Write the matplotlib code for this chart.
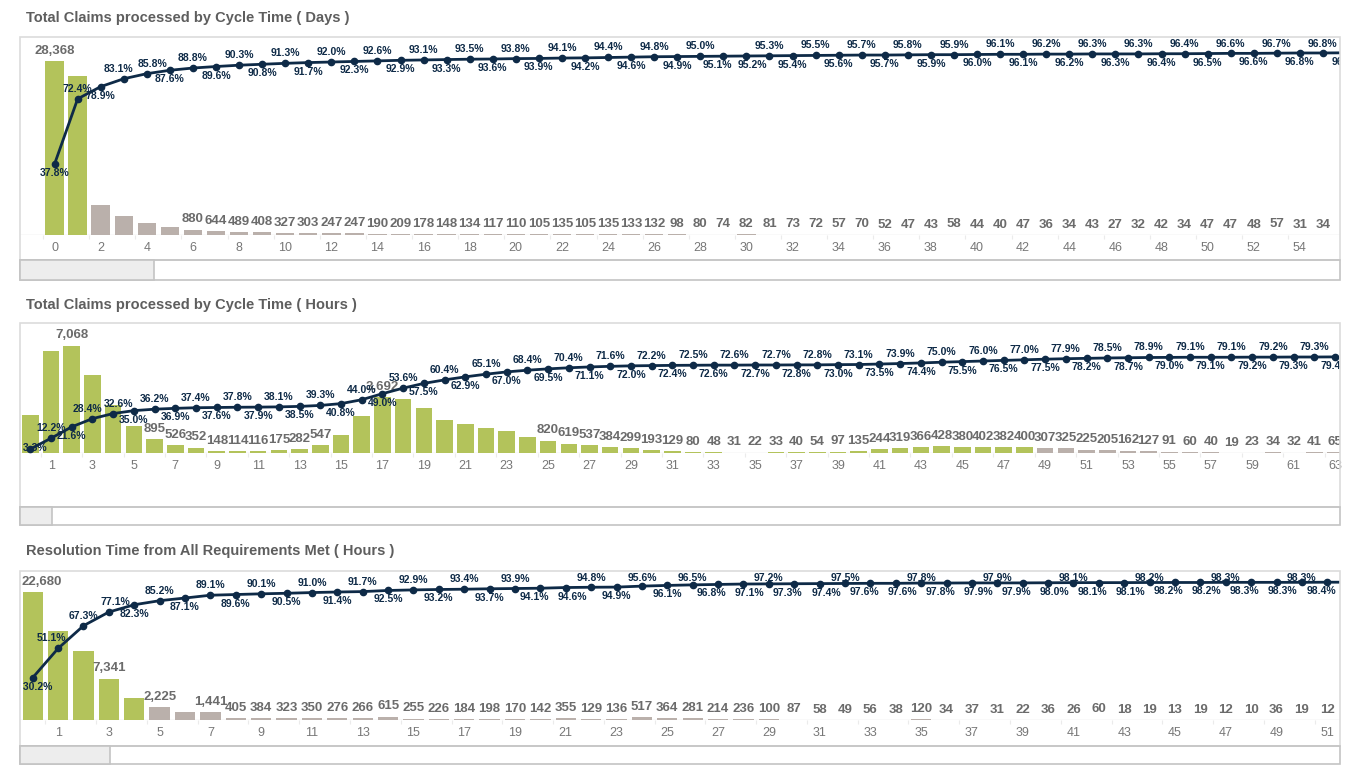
import matplotlib
matplotlib.use('Agg')
import matplotlib.pyplot as plt
from matplotlib.patches import Rectangle

plt.rcParams['font.family'] = ['Liberation Sans', 'DejaVu Sans']

# ---- data ----
days = list(range(57))
days_claims = [28368, 26000, 4880, 3150, 2030, 1350, 880, 644, 489, 408, 327, 303,
               247, 247, 190, 209, 178, 148, 134, 117, 110, 105, 135, 105, 135, 133,
               132, 98, 80, 74, 82, 81, 73, 72, 57, 70, 52, 47, 43, 58, 44, 40, 47,
               36, 34, 43, 27, 32, 42, 34, 47, 47, 48, 57, 31, 34, 30]
days_cum_pct = [37.8, 72.4, 78.9, 83.1, 85.8, 87.6, 88.8, 89.6, 90.3, 90.8, 91.3, 91.7,
                92.0, 92.3, 92.6, 92.9, 93.1, 93.3, 93.5, 93.6, 93.8, 93.9, 94.1, 94.2,
                94.4, 94.6, 94.8, 94.9, 95.0, 95.1, 95.2, 95.3, 95.4, 95.5, 95.6, 95.7,
                95.7, 95.8, 95.9, 95.9, 96.0, 96.1, 96.1, 96.2, 96.2, 96.3, 96.3, 96.3,
                96.4, 96.4, 96.5, 96.6, 96.6, 96.7, 96.8, 96.8, 96.9]

hours = list(range(64))
hours_claims = [2480, 6680, 7068, 5100, 3150, 1800, 895, 526, 352, 148, 114, 116, 175,
                282, 547, 1180, 2430, 3692, 3520, 2930, 2180, 1880, 1650, 1430, 1050,
                820, 619, 537, 384, 299, 193, 129, 80, 48, 31, 22, 33, 40, 54, 97, 135,
                244, 319, 366, 428, 380, 402, 382, 400, 307, 325, 225, 205, 162, 127,
                91, 60, 40, 19, 23, 34, 32, 41, 65]
hours_cum_pct = [3.3, 12.2, 21.6, 28.4, 32.6, 35.0, 36.2, 36.9, 37.4, 37.6, 37.8, 37.9,
                 38.1, 38.5, 39.3, 40.8, 44.0, 49.0, 53.6, 57.5, 60.4, 62.9, 65.1, 67.0,
                 68.4, 69.5, 70.4, 71.1, 71.6, 72.0, 72.2, 72.4, 72.5, 72.6, 72.6, 72.7,
                 72.7, 72.8, 72.8, 73.0, 73.1, 73.5, 73.9, 74.4, 75.0, 75.5, 76.0, 76.5,
                 77.0, 77.5, 77.9, 78.2, 78.5, 78.7, 78.9, 79.0, 79.1, 79.1, 79.1, 79.2,
                 79.2, 79.3, 79.3, 79.4]

res_hours = list(range(53))
res_claims = [22680, 15700, 12170, 7341, 3900, 2225, 1430, 1441, 405, 384, 323, 350,
              276, 266, 615, 255, 226, 184, 198, 170, 142, 355, 129, 136, 517, 364,
              281, 214, 236, 100, 87, 58, 49, 56, 38, 120, 34, 37, 31, 22, 36, 26, 60,
              18, 19, 13, 19, 12, 10, 36, 19, 12, 15]
res_cum_pct = [30.2, 51.1, 67.3, 77.1, 82.3, 85.2, 87.1, 89.1, 89.6, 90.1, 90.5, 91.0,
               91.4, 91.7, 92.5, 92.9, 93.2, 93.4, 93.7, 93.9, 94.1, 94.6, 94.8, 94.9,
               95.6, 96.1, 96.5, 96.8, 97.1, 97.2, 97.3, 97.4, 97.5, 97.6, 97.6, 97.8,
               97.8, 97.9, 97.9, 97.9, 98.0, 98.1, 98.1, 98.1, 98.2, 98.2, 98.2, 98.3,
               98.3, 98.3, 98.3, 98.4, 98.4]

# last bucket still counted as "in time" (green)
days_sla = 1
hours_sla = 48
res_sla = 4

W, H = 1353, 779
GREEN = '#b3c35b'
GREY = '#bab0ab'
NAVY = '#0e2a47'
TEXT_GREY = '#6b6b6b'
BOX = '#dcdcdc'


def alternate(n, start, even_char):
    odd_char = 'b' if even_char == 'a' else 'a'
    return ''.join(even_char if i % 2 == 0 else odd_char for i in range(start, start + n))


def nudges(place):
    # two neighbours on the same side get pushed apart a little
    out = [0.0] * len(place)
    for i in range(1, len(place)):
        if place[i] == place[i - 1]:
            out[i - 1] -= 0.25
            out[i] += 0.25
    return out


def fx(px):
    return px / W


def fy(py):
    return 1 - py / H


def draw_panel(fig, p):
    top, base, boxbot, sbot = p['top'], p['base'], p['boxbot'], p['sbot']
    left, right = 20, 1340

    # frame, scrollbar and thumb
    fig.add_artist(Rectangle((fx(left), fy(boxbot)), fx(right) - fx(left), (boxbot - top) / H,
                             transform=fig.transFigure, fill=False, edgecolor=BOX, lw=1.2))
    fig.add_artist(Rectangle((fx(left), fy(sbot)), fx(right) - fx(left), (sbot - boxbot) / H,
                             transform=fig.transFigure, fill=False, edgecolor='#c4c4c4', lw=1.2))
    fig.add_artist(Rectangle((fx(left), fy(sbot)), fx(p['thumb']) - fx(left), (sbot - boxbot) / H,
                             transform=fig.transFigure, facecolor='#ededed', edgecolor='#c4c4c4', lw=1.2))
    fig.text(fx(26), fy(p['title_y']), p['title'], ha='left', va='center',
             fontsize=10.5, weight='bold', color='#5e5e5e')

    ax = fig.add_axes([fx(left), fy(base), fx(right) - fx(left), (base - top) / H])
    x, counts, cum = p['x'], p['counts'], p['cum']
    x0 = p['xlim'][0]
    colors = [GREEN if xi <= p['sla'] else GREY for xi in x]
    ax.bar(x, counts, width=0.8, color=colors, zorder=2)
    ax.set_xlim(*p['xlim'])
    ax.set_ylim(0, p['bar_top'])
    ax.axhline(0, color='#e2e2e2', lw=1, zorder=1)
    for s in ax.spines.values():
        s.set_visible(False)
    ax.set_yticks([])
    ax.set_xticks(p['ticks'])
    ax.set_xticklabels([str(t) for t in p['ticks']])
    ax.set_xticks([t - 0.5 for t in p['ticks']], minor=True)
    ax.tick_params(axis='x', which='major', length=0, pad=5, labelsize=9, labelcolor='#777777')
    ax.tick_params(axis='x', which='minor', length=3, width=0.8, color='#ebebeb')

    for i in p['bar_labels']:
        if i >= len(x):
            continue
        txt = f'{counts[i]:,}'
        # labels that would stick out on the left are pushed inside the frame
        if x[i] - x0 < 0.9 and len(txt) > 3:
            ax.annotate(txt, (x0, counts[i]), xytext=(1, 3), textcoords='offset points',
                        ha='left', va='bottom', fontsize=9.5, weight='bold',
                        color=TEXT_GREY, zorder=3, annotation_clip=False)
        else:
            ax.annotate(txt, (x[i], counts[i]), xytext=(0, 3),
                        textcoords='offset points', ha='center', va='bottom',
                        fontsize=9.5, weight='bold', color=TEXT_GREY, clip_on=True, zorder=3)

    ax2 = ax.twinx()
    for s in ax2.spines.values():
        s.set_visible(False)
    ax2.set_yticks([])
    ax2.set_ylim(0, p['pct_top'])
    ax2.plot(x, cum, color=NAVY, lw=2, marker='o', ms=4.5, zorder=4)
    ax2.set_xlim(*p['xlim'])

    ppu = (base - top) / p['pct_top']   # pixels per percent
    shift = nudges(p['place'])
    for i, v in enumerate(cum):
        where = p['place'][i]
        if where == 'a':
            y = min(v + 10 / ppu, p['pct_top'] - 7 / ppu)
        else:
            y = max(v - 9 / ppu, 5 / ppu)
        if x[i] - x0 < 0.7:
            ax2.text(x0, y, f' {v:.1f}%', ha='left', va='center', fontsize=7.5,
                     weight='bold', color=NAVY, clip_on=True, zorder=5)
        else:
            ax2.text(x[i] + shift[i], y, f'{v:.1f}%', ha='center', va='center', fontsize=7.5,
                     weight='bold', color=NAVY, clip_on=True, zorder=5)


panels = [
    dict(title='Total Claims processed by Cycle Time ( Days )',
         x=days, counts=days_claims, cum=days_cum_pct, sla=days_sla,
         title_y=18, top=37, base=235, boxbot=260, sbot=280, thumb=154,
         xlim=(-1.5, 55.74), bar_top=32280, pct_top=105.3,
         ticks=list(range(0, 56, 2)),
         bar_labels=[0] + list(range(6, 57)),
         place='baba' + alternate(26, 4, 'a') + alternate(27, 30, 'b')),
    dict(title='Total Claims processed by Cycle Time ( Hours )',
         x=hours, counts=hours_claims, cum=hours_cum_pct, sla=hours_sla,
         title_y=305, top=323, base=453, boxbot=507, sbot=525, thumb=52,
         xlim=(-0.5, 63.24), bar_top=8550, pct_top=107.4,
         ticks=list(range(1, 64, 2)),
         bar_labels=[2] + list(range(6, 15)) + [17] + list(range(25, 64)),
         place='baba' + alternate(60, 4, 'a')),
    dict(title='Resolution Time from All Requirements Met ( Hours )',
         x=res_hours, counts=res_claims, cum=res_cum_pct, sla=res_sla,
         title_y=551, top=571, base=720, boxbot=746, sbot=764, thumb=110,
         xlim=(-0.5, 51.5), bar_top=26400, pct_top=106.4,
         ticks=list(range(1, 52, 2)),
         bar_labels=[0, 3, 5] + list(range(7, 53)),
         place='baaab' + 'abababababababa' + 'bbababa' + 'bba' * 8 + 'bb'),
]

fig = plt.figure(figsize=(W / 100, H / 100), dpi=100)
fig.patch.set_facecolor('white')
for p in panels:
    draw_panel(fig, p)

fig.savefig('out.png', dpi=100, facecolor='white')
